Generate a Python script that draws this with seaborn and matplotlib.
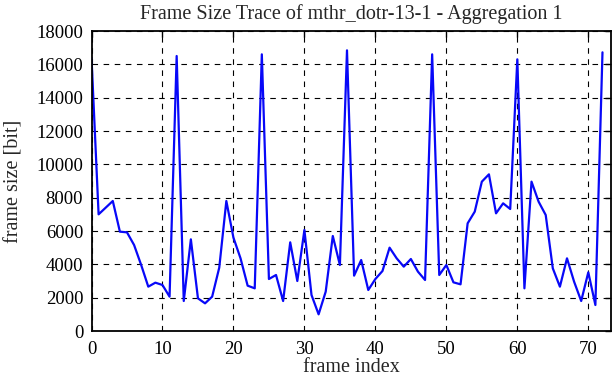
import matplotlib
matplotlib.use('Agg')
import matplotlib.pyplot as plt
import seaborn as sns
import pandas as pd

# frame sizes [bit], one per frame index 0..72
frame_size = [
    16400, 7000, 7400, 7800, 5960, 5920, 5160, 3960, 2660, 2900,
    2760, 2060, 16500, 1800, 5500, 1960, 1660, 2060, 3800, 7800,
    5600, 4360, 2720, 2560, 16600, 3120, 3360, 1800, 5320, 3000,
    6060, 2160, 1000, 2360, 5700, 3960, 16840, 3320, 4260, 2460,
    3120, 3600, 5000, 4360, 3860, 4320, 3560, 3060, 16600, 3360,
    3960, 2920, 2800, 6460, 7160, 8960, 9400, 7060, 7660, 7320,
    16300, 2560, 8960, 7760, 6960, 3760, 2660, 4360, 2960, 1800,
    3520, 1560, 16720,
]
frame_index = list(range(len(frame_size)))
x_ticks = [0, 10, 20, 30, 40, 50, 60, 70]
y_ticks = [0, 2000, 4000, 6000, 8000, 10000, 12000, 14000, 16000, 18000]

df = pd.DataFrame({'frame index': frame_index, 'frame size [bit]': frame_size})

sns.set_style('white')
plt.rcParams['font.family'] = ['Liberation Serif', 'DejaVu Serif']

fig = plt.figure(figsize=(6.12, 3.82), dpi=100)
ax = fig.add_axes([91.5 / 612, 1 - 331 / 382, (611 - 91.5) / 612, 300 / 382])

sns.lineplot(data=df, x='frame index', y='frame size [bit]', ax=ax,
             color='#0808f8', linewidth=1.6)

ax.set_xlim(0, 73.2)
ax.set_ylim(0, 18000)
ax.set_xticks(x_ticks)
ax.set_yticks(y_ticks)
ax.grid(True, color='black', linestyle=(0, (5, 5)), linewidth=0.8)
ax.tick_params(direction='in', top=True, right=True, length=4.5,
               labelsize=13.5, colors='black', width=1)
ax.tick_params(axis='x', pad=7)
ax.tick_params(axis='y', pad=6)
for s in ax.spines.values():
    s.set_color('black')
    s.set_linewidth(1.3)

ax.set_xlabel('frame index', fontsize=14.5, labelpad=0)
ax.set_ylabel('frame size [bit]', fontsize=14.5, labelpad=9)
ax.set_title('Frame Size Trace of mthr_dotr-13-1 - Aggregation 1', fontsize=14.5, pad=9)

plt.savefig('out.png', dpi=100)
